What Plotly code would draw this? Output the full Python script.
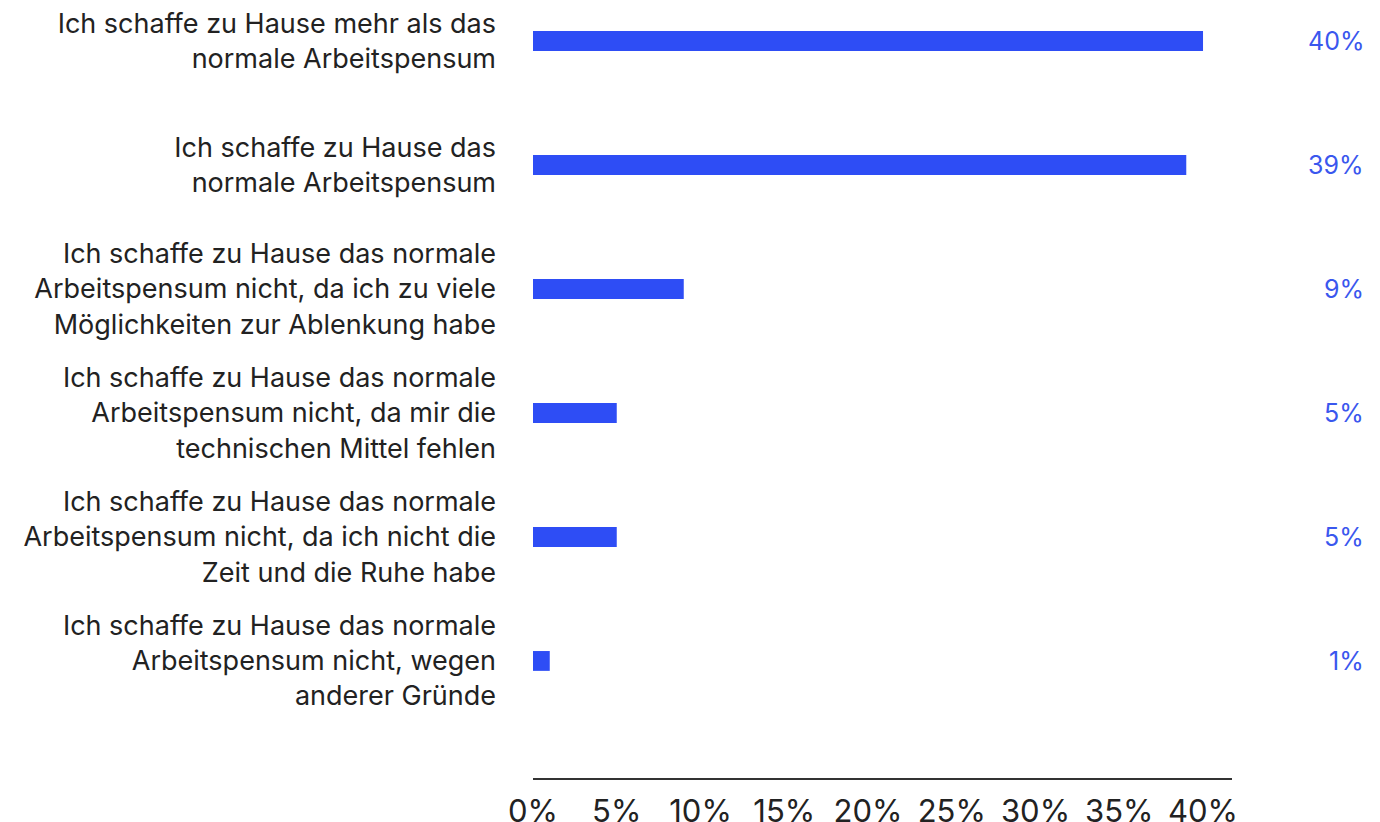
import plotly.graph_objects as go

# categories listed bottom to top (plotly draws the first category at the bottom)
categories = [
    "Ich schaffe zu Hause das normale<br>Arbeitspensum nicht, wegen<br>anderer Gründe",
    "Ich schaffe zu Hause das normale<br>Arbeitspensum nicht, da ich nicht die<br>Zeit und die Ruhe habe",
    "Ich schaffe zu Hause das normale<br>Arbeitspensum nicht, da mir die<br>technischen Mittel fehlen",
    "Ich schaffe zu Hause das normale<br>Arbeitspensum nicht, da ich zu viele<br>Möglichkeiten zur Ablenkung habe",
    "Ich schaffe zu Hause das<br>normale Arbeitspensum",
    "Ich schaffe zu Hause mehr als das<br>normale Arbeitspensum",
]
values = [1, 5, 5, 9, 39, 40]
tick_vals = [0, 5, 10, 15, 20, 25, 30, 35, 40]
tick_text = ["0%", "5%", "10%", "15%", "20%", "25%", "30%", "35%", "40%"]

BLUE = "#2E4DF5"
LABEL_BLUE = "#3A57EE"
TEXT = "#222222"
FONT = "Inter, Roboto, sans-serif"

fig = go.Figure(go.Bar(
    x=values, y=categories, orientation="h",
    marker=dict(color=BLUE, line_width=0),
    width=0.16, hoverinfo="skip",
))

# value labels sit in the right margin, right-aligned
for cat, v in zip(categories, values):
    fig.add_annotation(
        x=1.1917, xref="paper", y=cat, yref="y",
        text=f"{v}%", showarrow=False, xanchor="right",
        font=dict(family=FONT, size=25, color=LABEL_BLUE),
    )

fig.update_xaxes(
    range=[0, 41.73], tickvals=tick_vals, ticktext=tick_text,
    showgrid=False, zeroline=False, automargin=False,
    showline=True, linecolor="#333333", linewidth=1.5,
    ticklabelstandoff=5,
    tickfont=dict(family=FONT, size=31, color=TEXT),
)
fig.update_yaxes(
    range=[-0.944, 5.266], showgrid=False, zeroline=False, automargin=False,
    ticklabelstandoff=36,
    tickfont=dict(family=FONT, size=27, color=TEXT),
)
# page body adds an 8px offset, so margins are trimmed by 8px on the left/top
fig.update_layout(
    width=1380, height=822,
    margin=dict(l=525, r=156, t=0, b=52),
    plot_bgcolor="white", paper_bgcolor="white",
    showlegend=False,
)

fig.write_html("out.html")
